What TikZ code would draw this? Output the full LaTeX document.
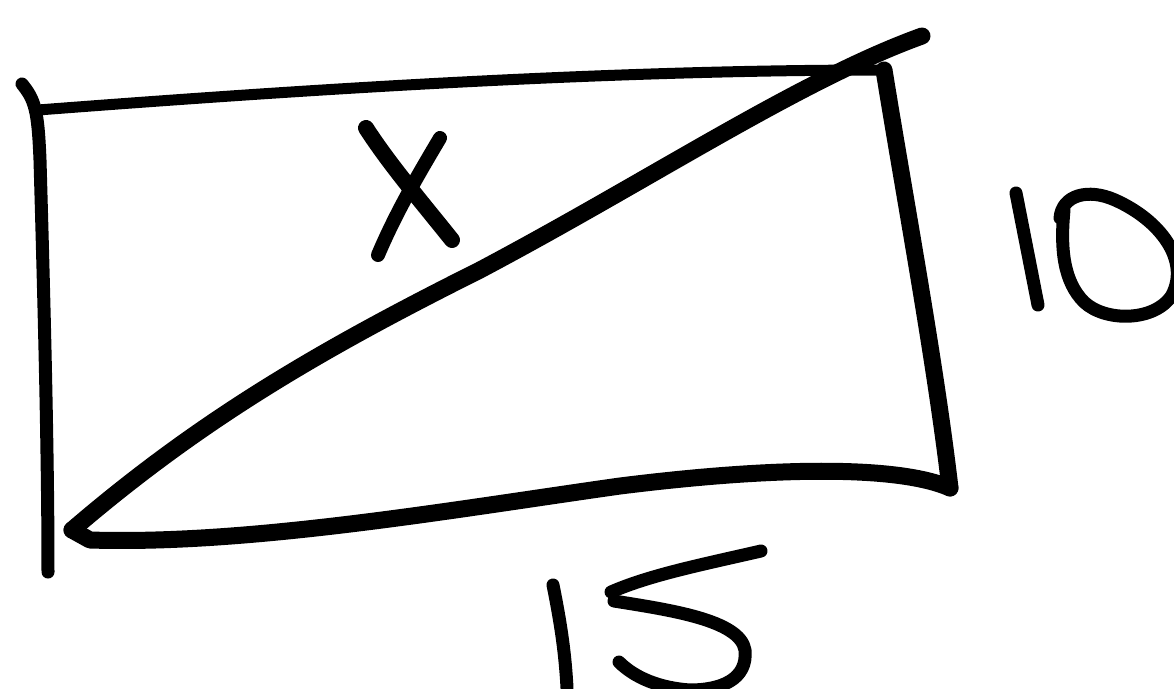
\documentclass[tikz,border=0pt]{standalone}
\begin{document}
\begin{tikzpicture}[x=1pt,y=-1pt,
  pen/.style={line width=13pt,line cap=round,line join=round,black},
  thickpen/.style={line width=17pt,line cap=round,line join=round,black},
  thinpen/.style={line width=11pt,line cap=round,line join=round,black}]
\useasboundingbox[fill=white] (0,0) rectangle (1174,688);
% corners
\coordinate (tl0) at (22,84);
\coordinate (tl) at (38,110);
\coordinate (bl) at (48,572);
\coordinate (tr) at (884,70);
\coordinate (br) at (950,488);
\coordinate (bll) at (72,530);
\coordinate (diagEnd) at (922,36);
% left side
\draw[pen] (tl0) .. controls (35,100) and (38,110) .. (40,160) .. controls (44,300) and (48,450) .. (bl);
% top side
\draw[thinpen] (tl) .. controls (300,90) and (600,70) .. (tr);
% right side
\draw[thickpen] (tr) .. controls (905,200) and (935,360) .. (br);
% bottom side
\draw[thickpen] (bll) -- (90,540) .. controls (250,545) and (450,510) .. (620,486) .. controls (780,466) and (900,466) .. (br);
% diagonal
\draw[thickpen] (bll) .. controls (200,420) and (320,350) .. (480,270) .. controls (650,180) and (800,80) .. (diagEnd);
% X
\draw[pen,line width=16pt] (366,128) .. controls (390,165) and (420,200) .. (452,240);
\draw[pen,line width=14pt] (440,138) .. controls (415,180) and (395,215) .. (378,255);
% 10
\draw[pen] (1016,193) -- (1038,305);
\draw[pen] (1060,218) .. controls (1062,195) and (1088,188) .. (1115,200) .. controls (1160,220) and (1190,260) .. (1172,295) .. controls (1155,322) and (1105,322) .. (1084,302) .. controls (1064,282) and (1060,250) .. (1064,210);
% 15
\draw[pen] (553,585) .. controls (560,620) and (565,650) .. (567,688);
\draw[pen] (761,551) .. controls (700,565) and (650,575) .. (611,592);
\draw[pen] (614,601) .. controls (670,610) and (740,620) .. (745,650) .. controls (748,680) and (720,690) .. (690,690) .. controls (660,688) and (635,678) .. (619,662);
\end{tikzpicture}
\end{document}
